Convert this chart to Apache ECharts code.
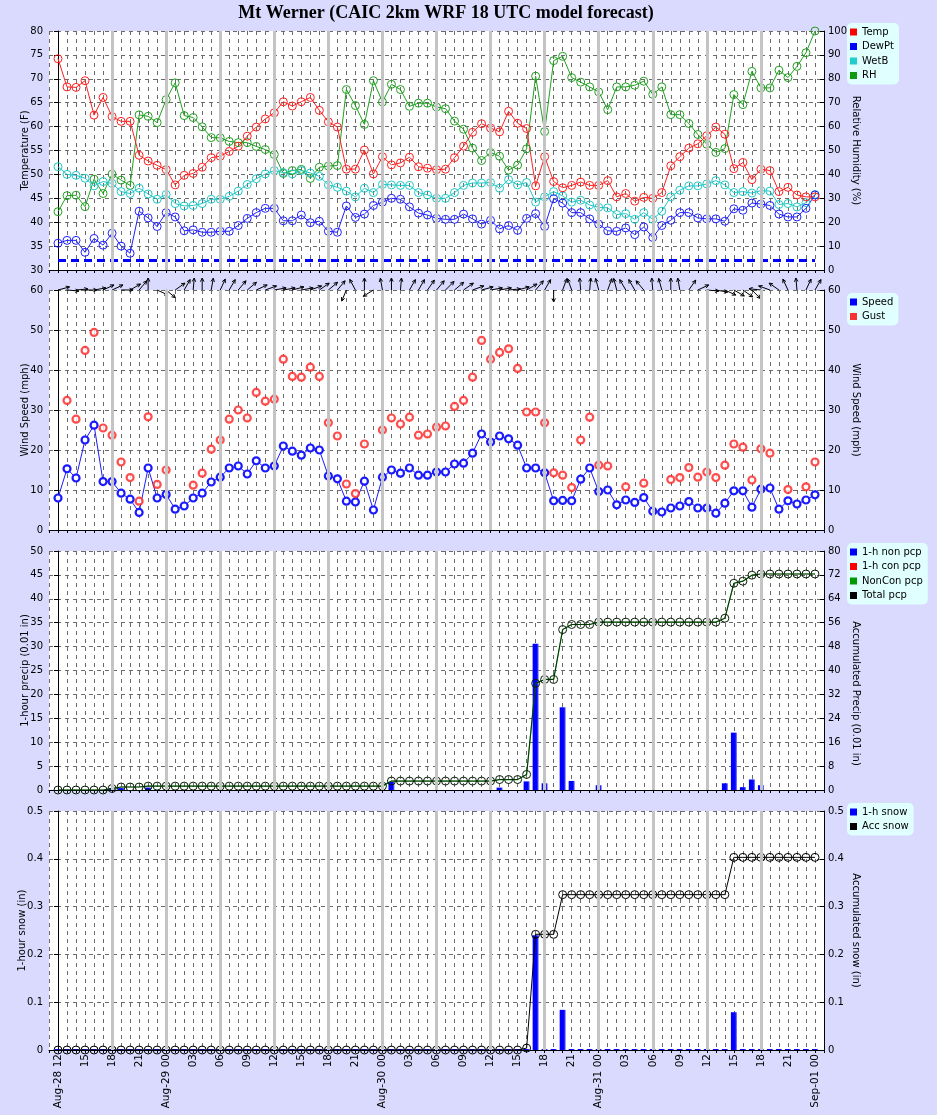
<!DOCTYPE html>
<html><head><meta charset="utf-8">
<script src="https://cdn.jsdelivr.net/npm/echarts@6/dist/echarts.min.js"></script>
<style>html,body{margin:0;padding:0;background:#dadaff;}#c{width:937px;height:1115px;}</style>
</head><body><div id="c"></div>
<script>
// hour index 0 = Aug-28 12 UTC ... 84 = Sep-01 00 UTC
const tickLabels = ['Aug-28 12','15','18','21','Aug-29 00','03','06','09','12','15','18','21','Aug-30 00','03','06','09','12','15','18','21','Aug-31 00','03','06','09','12','15','18','21','Sep-01 00'];

const temp = [74.2,68.3,68.2,69.6,62.4,66.1,62.1,61.1,61.1,54.0,
 52.8,51.9,51.0,47.8,49.8,50.2,51.5,53.5,53.8,54.8,
 55.9,58.0,59.9,61.6,62.9,65.2,64.3,65.2,66.1,63.4,
 61.0,59.9,51.1,51.1,55.1,50.1,53.7,52.0,52.4,53.6,
 51.6,51.3,51.0,51.1,53.5,55.9,58.8,60.6,59.7,58.9,
 63.2,60.7,59.6,47.6,53.7,48.5,47.2,47.7,48.4,47.7,
 47.7,48.7,45.3,46.0,44.4,45.2,45.0,46.2,51.8,53.7,
 55.5,56.4,58.1,59.9,58.4,51.2,52.5,48.9,51.1,50.8,
 46.4,47.3,45.7,45.3,45.3];
const dewPt = [35.6,36.2,36.2,33.7,36.6,35.2,37.7,35.0,33.5,42.3,
 40.9,39.1,42.0,41.1,38.2,38.4,37.9,37.9,38.1,38.1,
 39.3,40.8,42.0,42.9,42.9,40.3,40.3,41.5,39.9,40.2,
 38.1,37.9,43.4,41.0,41.7,43.5,44.2,45.0,44.8,43.2,
 41.9,41.5,40.8,40.6,40.6,41.7,40.7,39.6,40.4,38.6,
 39.3,38.3,40.8,41.8,39.1,44.9,44.0,42.0,42.0,40.7,
 39.6,38.2,38.1,38.8,37.4,39.0,36.8,39.3,40.4,42.0,
 42.0,40.9,40.7,40.7,40.2,42.8,42.5,44.0,43.8,43.5,
 41.7,41.1,41.1,42.9,45.7];
const wetB = [51.6,50.0,49.8,49.2,47.6,48.5,48.1,46.4,46.0,47.1,
 45.9,44.8,45.8,43.9,43.4,43.5,43.9,44.8,44.8,45.4,
 46.5,47.9,49.1,50.1,50.8,50.4,50.1,50.8,50.3,49.6,
 47.8,47.3,46.5,45.3,47.1,46.2,47.9,47.8,47.7,47.7,
 46.2,45.7,45.0,45.0,46.2,47.7,48.2,48.2,48.3,47.1,
 48.9,47.8,48.3,44.2,45.3,46.4,45.5,44.2,44.6,43.6,
 43.1,43.0,41.6,41.8,40.6,42.0,40.6,42.3,45.3,46.7,
 47.6,47.6,48.0,48.7,47.8,46.2,46.4,46.1,46.6,46.5,
 43.7,43.9,43.2,44.1,45.8];
const rh = [24.4,31.1,31.3,26.5,38.0,32.0,40.1,37.6,35.4,64.9,
 64.3,61.7,71.3,78.3,64.6,63.8,59.9,55.4,55.3,53.8,
 53.3,53.3,51.7,50.4,48.3,40.4,41.6,42.1,38.3,43.0,
 43.5,43.7,75.5,68.8,60.9,79.2,70.3,77.7,75.5,68.5,
 69.8,69.8,68.2,67.5,62.3,58.9,51.0,45.8,49.2,47.6,
 41.8,43.9,50.7,81.1,57.9,87.6,89.4,80.5,78.6,76.6,
 74.5,67.1,76.6,76.6,77.3,79.0,73.5,76.6,65.0,65.0,
 61.3,56.7,52.6,49.2,50.8,73.4,69.2,83.1,76.2,76.2,
 83.6,80.5,85.2,90.9,100];
const freezingF = 32;

const speed = [8.0,15.3,13.0,22.5,26.2,12.1,12.1,9.2,7.7,4.4,
 15.5,8.0,8.9,5.2,6.0,8.0,9.2,12.0,13.2,15.5,
 16.0,14.0,17.3,15.5,16.0,21.0,19.7,18.7,20.5,20.0,
 13.5,12.8,7.2,7.0,12.2,5.0,13.2,15.0,14.2,15.5,
 13.7,13.7,14.5,14.5,16.5,16.7,19.2,24.0,22.0,23.5,
 22.8,21.2,15.5,15.5,14.3,7.3,7.4,7.3,12.7,15.5,
 9.6,10.0,6.3,7.5,6.9,8.1,4.7,4.5,5.5,6.0,
 7.1,5.5,5.5,4.2,6.7,9.8,9.8,5.7,10.2,10.5,
 5.2,7.3,6.5,7.5,8.8];
const gust = [null,32.4,27.7,44.9,49.4,25.5,23.7,17.0,13.1,7.2,
 28.3,11.4,15.0,null,null,11.2,14.2,20.2,22.5,27.7,
 30.0,28.0,34.4,32.2,32.7,42.7,38.4,38.2,40.7,38.4,
 26.8,23.5,11.5,9.1,21.5,null,25.0,28.0,26.5,28.2,
 23.7,24.0,25.7,26.0,30.9,32.4,38.2,47.4,42.7,44.4,
 45.3,40.4,29.5,29.5,26.8,14.3,13.7,10.6,22.5,28.2,
 16.2,16.0,null,10.8,null,11.7,null,null,12.6,13.1,
 15.6,13.2,14.5,13.1,16.2,21.5,20.7,12.5,20.3,19.2,
 null,10.1,null,10.8,17.0];
// direction the wind blows toward, degrees clockwise from north (arrow heading)
const windDir = [75,95,85,90,80,65,65,90,60,40,
 0,115,130,55,30,5,0,10,25,30,
 40,50,65,70,80,80,75,80,70,55,
 50,40,203,332,0,238,350,0,5,30,
 30,35,40,45,50,55,70,75,80,80,
 85,75,60,40,30,180,20,340,355,5,
 345,20,345,330,330,320,355,345,0,350,
 35,65,95,100,115,120,125,135,276,290,
 305,335,355,25,30];

const pcpNon1h = [0,0,0,0,0,0,0.4,0.4,0,0,
 0.5,0,0,0,0,0,0,0,0,0,
 0,0,0,0,0,0,0,0,0,0,
 0,0,0,0,0,0,0,1.7,0,0,
 0,0,0,0,0,0,0,0,0,0.5,
 0,0,1.8,30.6,1.4,0,17.3,1.9,0,0,
 1.0,0,0,0,0,0,0,0,0,0,
 0,0,0,0,1.4,12.0,0.6,2.2,1.0,0,
 0,0,0,0,0];
const pcpCon1h = new Array(85).fill(0);
const pcpAcc = [0,0,0,0,0,0,0.5,1.0,1.0,1.0,
 1.3,1.3,1.3,1.3,1.3,1.3,1.3,1.3,1.3,1.3,
 1.3,1.3,1.3,1.3,1.3,1.3,1.3,1.3,1.3,1.3,
 1.3,1.3,1.3,1.3,1.3,1.3,1.3,3.0,3.0,3.0,
 3.0,3.0,3.0,3.0,3.0,3.0,3.0,3.0,3.0,3.5,
 3.5,3.5,5.2,35.7,37.0,37.0,53.7,55.4,55.4,55.4,
 56.2,56.2,56.2,56.2,56.2,56.2,56.2,56.2,56.2,56.2,
 56.2,56.2,56.2,56.2,57.5,69.2,69.9,71.9,72.3,72.3,
 72.3,72.3,72.3,72.3,72.3];

const snow1h = [0,0,0,0,0,0,0,0,0,0,
 0,0,0,0,0,0,0,0,0,0,
 0,0,0,0,0,0,0,0,0,0,
 0,0,0,0,0,0,0,0,0,0,
 0,0,0,0,0,0,0,0,0,0,
 0,0,0,0.240,0,0,0.084,0,0,0,
 0,0,0,0,0,0,0,0,0,0,
 0,0,0,0,0,0.079,0,0,0,0,
 0,0,0,0,0];
const snowAcc = [0,0,0,0,0,0,0,0,0,0,
 0,0,0,0,0,0,0,0,0,0,
 0,0,0,0,0,0,0,0,0,0,
 0,0,0,0,0,0,0,0,0,0,
 0,0,0,0,0,0,0,0,0,0,
 0,0,0.004,0.242,0.242,0.242,0.325,0.325,0.325,0.325,
 0.325,0.325,0.325,0.325,0.325,0.325,0.325,0.325,0.325,0.325,
 0.325,0.325,0.325,0.325,0.325,0.403,0.403,0.403,0.403,0.403,
 0.403,0.403,0.403,0.403,0.403];

// ---------- styling / layout ----------
const F = 'DejaVu Sans';
const C = {temp:'#ff2020', dew:'#2020ff', wet:'#20c8c8', rh:'#20a020', spd:'#1a1aff', gust:'#ff2020'};
const sixHourLines = [6,12,18,24,30,36,42,48,54,60,66,72,78];
const grids = [{top:31,height:239},{top:290,height:240},{top:551,height:239},{top:811,height:239}];
const xy = a => a.map((v,i)=>[i,v]);

const xAxes = grids.map((g,k)=>({
  type:'value', gridIndex:k, min:-1, max:85, interval:1,
  axisLine:{show:true,onZero:false,lineStyle:{color:'#000',width:1}},
  axisTick:{show:true,length:3,lineStyle:{color:'#000'}},
  splitLine:{show:true,lineStyle:{type:[4,4],color:'#6a6a6a',width:1}},
  axisLabel: k===3 ? {show:true,rotate:90,margin:4,fontFamily:F,fontSize:10.5,color:'#000',
      formatter:v=>(v>=0&&v<=84&&v%3===0)?tickLabels[v/3]:''} : {show:false}
}));
function yAx(k, side, min, max, interval, name, split, extra){
  const left = side==='left';
  const ax = {type:'value', gridIndex:k, position:side, min, max, interval, name,
    nameLocation:'middle', nameGap: left?19:27, nameRotate: left?90:-90, nameMoveOverlap:false,
    nameTextStyle:{fontFamily:F,fontSize:10,color:'#000'},
    axisLine:{show:true,lineStyle:{color:'#000',width:1}},
    axisTick:{show:true,inside:!left,length:4,lineStyle:{color:'#000'}},
    axisLabel:{fontFamily:F,fontSize:10,color:'#000',margin:left?6:4},
    splitLine:{show:split,lineStyle:{type:[4,4],color:'#6a6a6a',width:1}}};
  if (extra) extra(ax);
  return ax;
}
const oneDec = ax => { ax.axisLabel.formatter = v => +v.toFixed(1) + ''; };
const yAxes = [
  yAx(0,'left',30,80,5,'Temperature (F)',true),
  yAx(0,'right',0,100,10,'Relative Humidity (%)',false),
  yAx(1,'left',0,60,10,'Wind Speed (mph)',true),
  yAx(1,'right',0,60,10,'Wind Speed (mph)',false),
  yAx(2,'left',0,50,5,'1-hour precip (0.01 in)',true),
  yAx(2,'right',0,80,8,'Accumulated Precip (0.01 in)',false, ax=>{ ax.nameTextStyle.padding=[0,0,0,46]; }),
  yAx(3,'left',0,0.5,0.1,'1-hour snow (in)',true, ax=>{ oneDec(ax); ax.nameGap = 22; }),
  yAx(3,'right',0,0.5,0.1,'Accumulated snow (in)',false, oneDec)
];

function sixHour(k, yi){
  return {type:'line', xAxisIndex:k, yAxisIndex:yi, data:[], silent:true, z:1,
    markLine:{silent:true, symbol:'none', animation:false, label:{show:false},
      lineStyle:{color:'#c4c4c4',width:3,type:'solid'},
      data: sixHourLines.map(h=>({xAxis:h}))}};
}
function hollowLine(name, arr, color, yi, k){
  return {name, type:'line', xAxisIndex:k, yAxisIndex:yi, data:xy(arr), z:3,
    symbol:'circle', symbolSize:8, showAllSymbol:true,
    itemStyle:{color:'rgba(0,0,0,0)', borderColor:color, borderWidth:1},
    lineStyle:{color, width:1}};
}
const barFill = {type:'linear',x:0,y:0,x2:1,y2:0,colorStops:[{offset:0,color:'#0000ff'},{offset:0.7,color:'#0000ff'},{offset:1,color:'#7070ff'}]};

const series = [
  sixHour(0,0),
  {name:'_frz', type:'line', xAxisIndex:0, yAxisIndex:0, data:[[0,freezingF],[84,freezingF]], symbol:'none', silent:true, z:2,
    lineStyle:{color:'#0000ff',width:3,type:[8,5]}},
  hollowLine('RH', rh, C.rh, 1, 0),
  hollowLine('WetB', wetB, C.wet, 0, 0),
  hollowLine('DewPt', dewPt, C.dew, 0, 0),
  hollowLine('Temp', temp, C.temp, 0, 0),

  sixHour(1,2),
  {name:'Speed', type:'line', xAxisIndex:1, yAxisIndex:2, data:xy(speed), z:3, symbol:'circle', symbolSize:7, showAllSymbol:true,
    itemStyle:{color:'#ffffff', borderColor:C.spd, borderWidth:2.2}, lineStyle:{color:C.spd,width:1}},
  {name:'Gust', type:'scatter', xAxisIndex:1, yAxisIndex:2, data:xy(gust), z:3, symbol:'circle', symbolSize:7,
    itemStyle:{color:'#ffffff', borderColor:C.gust, borderWidth:2.2}},
  {name:'_dir', type:'custom', xAxisIndex:1, yAxisIndex:2, data:windDir.map((d,i)=>[i,d]), z:4, silent:true,
    encode:{x:0,y:1},
    renderItem:(params, api)=>{
      const p = api.coord([api.value(0), 60]);
      const a = api.value(1)*Math.PI/180, L = 12, h = 4;
      const ex = p[0]+L*Math.sin(a), ey = p[1]-L*Math.cos(a);
      const b1 = a+Math.PI-0.45, b2 = a+Math.PI+0.45;
      const st = {stroke:'#000', lineWidth:1, fill:null};
      return {type:'group', children:[
        {type:'line', shape:{x1:p[0],y1:p[1],x2:ex,y2:ey}, style:st},
        {type:'line', shape:{x1:ex,y1:ey,x2:ex+h*Math.sin(b1),y2:ey-h*Math.cos(b1)}, style:st},
        {type:'line', shape:{x1:ex,y1:ey,x2:ex+h*Math.sin(b2),y2:ey-h*Math.cos(b2)}, style:st}
      ]};
    }},

  sixHour(2,4),
  {name:'1-h non pcp', type:'bar', xAxisIndex:2, yAxisIndex:4, data:xy(pcpNon1h), barWidth:6, z:3, itemStyle:{color:barFill}},
  {name:'1-h con pcp', type:'bar', xAxisIndex:2, yAxisIndex:4, data:xy(pcpCon1h), barWidth:6, barGap:'-100%', z:3, itemStyle:{color:'#ff0000'}},
  {name:'NonCon pcp', type:'line', xAxisIndex:2, yAxisIndex:5, data:xy(pcpAcc), z:3, symbol:'none', lineStyle:{color:'#008000',width:1.2}},
  {name:'Total pcp', type:'line', xAxisIndex:2, yAxisIndex:5, data:xy(pcpAcc), z:4, symbol:'circle', symbolSize:8, showAllSymbol:true,
    itemStyle:{color:'rgba(0,0,0,0)', borderColor:'#0a1f0a', borderWidth:1}, lineStyle:{color:'#000',width:1,opacity:0.55}},

  sixHour(3,6),
  {name:'1-h snow', type:'bar', xAxisIndex:3, yAxisIndex:6, data:xy(snow1h), barWidth:6, barMinHeight:1, z:3, itemStyle:{color:barFill}},
  {name:'Acc snow', type:'line', xAxisIndex:3, yAxisIndex:7, data:xy(snowAcc), z:4, symbol:'circle', symbolSize:8, showAllSymbol:true,
    itemStyle:{color:'rgba(0,0,0,0)', borderColor:'#000', borderWidth:1}, lineStyle:{color:'#000',width:1}}
];

const legendBase = {orient:'vertical', left:847, icon:'rect', itemWidth:7, itemHeight:7, itemGap:2.5,
  backgroundColor:'#e0ffff', borderRadius:5, padding:[3,5,3,3], selectedMode:false,
  textStyle:{fontFamily:F,fontSize:10,color:'#000',lineHeight:12}};
const li = (name,color)=>({name, itemStyle:{color, borderWidth:0}});
const legends = [
  Object.assign({}, legendBase, {top:23, data:[li('Temp','#ff0000'),li('DewPt','#0000ff'),li('WetB','#22cccc'),li('RH','#119911')]}),
  Object.assign({}, legendBase, {top:293, data:[li('Speed','#0000ff'),li('Gust','#ff0000')]}),
  Object.assign({}, legendBase, {top:543, data:[li('1-h non pcp','#0000ff'),li('1-h con pcp','#ff0000'),li('NonCon pcp','#009900'),li('Total pcp','#000000')]}),
  Object.assign({}, legendBase, {top:803, data:[li('1-h snow','#0000ff'),li('Acc snow','#000000')]})
];

const chart = echarts.init(document.getElementById('c'), null, {renderer:'canvas'});
chart.setOption({
  backgroundColor:'#dadaff',
  animation:false,
  graphic:[{type:'text', x:446, y:13, style:{text:'Mt Werner (CAIC 2km WRF 18 UTC model forecast)',
    font:'bold 18px "Liberation Serif"', fill:'#000', textAlign:'center', textVerticalAlign:'middle'}}],
  grid: grids.map(g=>({left:49, right:113, top:g.top, height:g.height, show:true, backgroundColor:'#ffffff', borderWidth:0})),
  xAxis: xAxes,
  yAxis: yAxes,
  legend: legends,
  series
});
</script></body></html>
